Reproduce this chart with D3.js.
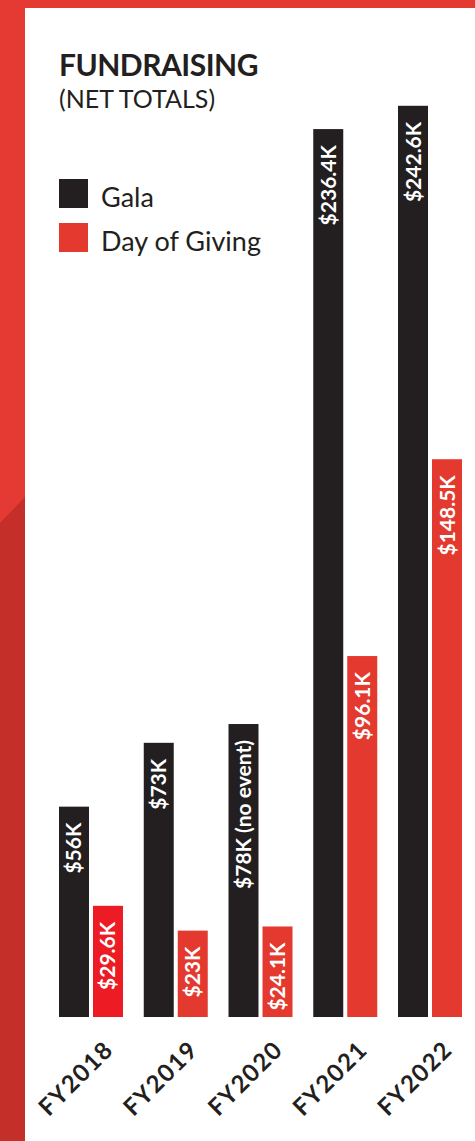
<!DOCTYPE html>
<html>
<head>
<meta charset="utf-8">
<script src="https://cdn.jsdelivr.net/npm/d3@7"></script>
<style>
  body { margin: 0; background: #fff; }
  svg { display: block; }
  text { font-family: Lato, "Open Sans", sans-serif; }
</style>
</head>
<body>
<div id="chart"></div>
<script>
const width = 475;
const height = 1141;

const years = ["FY2018", "FY2019", "FY2020", "FY2021", "FY2022"];
const series = ["Gala", "Day of Giving"];
const gala = [56, 73, 78, 236.4, 242.6];
const dayOfGiving = [29.6, 23, 24.1, 96.1, 148.5];
const galaLabels = ["$56K", "$73K", "$78K (no event)", "$236.4K", "$242.6K"];
const givingLabels = ["$29.6K", "$23K", "$24.1K", "$96.1K", "$148.5K"];

const black = "#231f20";
const red = "#e3392f";

const svg = d3
  .select("#chart")
  .append("svg")
  .attr("width", width)
  .attr("height", height);

// red frame behind the white panel
svg.append("rect").attr("width", width).attr("height", height).attr("fill", "#e43a33");
svg
  .append("path")
  .attr("d", "M0,523 L25,497 L25," + height + " L0," + height + " Z")
  .attr("fill", "#c42f2a");
svg
  .append("rect")
  .attr("x", 25)
  .attr("y", 8)
  .attr("width", width - 25)
  .attr("height", height - 8)
  .attr("fill", "#fff");

// title
svg
  .append("text")
  .attr("x", 59)
  .attr("y", 76)
  .attr("font-size", 30)
  .attr("font-weight", 700)
  .attr("fill", black)
  .attr("letter-spacing", -0.5)
  .text("FUNDRAISING");

svg
  .append("text")
  .attr("x", 59)
  .attr("y", 108)
  .attr("font-size", 25)
  .attr("fill", black)
  .text("(NET TOTALS)");

// legend
const legend = svg
  .selectAll(".legend")
  .data(series)
  .join("g")
  .attr("class", "legend")
  .attr("transform", (d, i) => `translate(59, ${179 + i * 44})`);

legend
  .append("rect")
  .attr("width", 29)
  .attr("height", 29)
  .attr("fill", (d, i) => (i == 0 ? black : red));

legend
  .append("text")
  .attr("x", 42)
  .attr("y", 28)
  .attr("font-size", 27)
  .attr("fill", black)
  .text((d) => d);

// scales
const x = d3.scaleBand().domain(years).range([59, 462]).paddingInner(0.245);
const xSub = d3.scaleBand().domain(series).range([0, x.bandwidth()]).paddingInner(0.118);
const y = d3.scaleLinear().domain([0, 250]).range([1017, 78]);

let rows = [];
for (let i = 0; i < years.length; i++) {
  rows.push({ year: years[i], key: "Gala", value: gala[i], label: galaLabels[i], color: black });
  rows.push({
    year: years[i],
    key: "Day of Giving",
    value: dayOfGiving[i],
    label: givingLabels[i],
    color: years[i] == "FY2018" ? "#ed1c24" : red,
  });
}

svg
  .selectAll(".bar")
  .data(rows)
  .join("rect")
  .attr("class", "bar")
  .attr("x", (d) => x(d.year) + xSub(d.key))
  .attr("y", (d) => y(d.value))
  .attr("width", xSub.bandwidth())
  .attr("height", (d) => y(0) - y(d.value))
  .attr("fill", (d) => d.color);

// value labels, rotated inside the bars
svg
  .selectAll(".value")
  .data(rows)
  .join("text")
  .attr("class", "value")
  .attr("transform", (d) => {
    const cx = x(d.year) + xSub(d.key) + xSub.bandwidth() / 2 + 7.5;
    return `translate(${cx}, ${y(d.value) + 16}) rotate(-90)`;
  })
  .attr("text-anchor", "end")
  .attr("font-size", 21)
  .attr("font-weight", 700)
  .attr("fill", "#fff")
  .text((d) => d.label);

// x axis labels
const xAxis = d3.axisBottom(x).tickSize(0).tickPadding(0);
const axisG = svg.append("g").attr("transform", `translate(0, ${y(0)})`).call(xAxis);
axisG.select(".domain").remove();
axisG
  .selectAll("text")
  .attr("font-family", "Lato, sans-serif")
  .attr("font-size", 24)
  .attr("font-weight", 700)
  .attr("letter-spacing", 1.5)
  .attr("fill", black)
  .attr("text-anchor", "end")
  .attr("dy", null)
  .attr("y", 0)
  .attr("transform", "translate(24, 34) rotate(-45)");
</script>
</body>
</html>
